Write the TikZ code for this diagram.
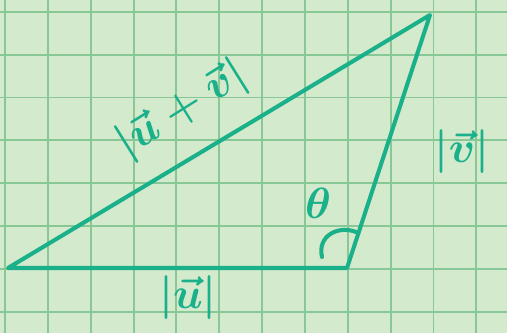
\documentclass[tikz,border=0pt]{standalone}
\usepackage{amsmath,amssymb}
\usepackage{tikz}
\usepackage{xcolor}
\definecolor{paper}{HTML}{D3EACD}
\definecolor{gridline}{HTML}{88C896}
\definecolor{ink}{HTML}{19B08A}
\tikzset{
  side/.style={ink,line width=2.3pt,line join=round,line cap=round},
  lbl/.style={ink,font=\fontsize{24}{28}\selectfont\boldmath},
}
\begin{document}
\begin{tikzpicture}[x=0.02cm,y=-0.02cm,line cap=round]
\fill[paper] (0,0) rectangle (507,333);
\useasboundingbox (0,0) rectangle (507,333);
\begin{scope}
\clip (0,0) rectangle (507,333);
\foreach \i in {0,...,11} \draw[gridline,line width=1.1pt] ({5+42.85*\i},0) -- ({5+42.85*\i},333);
\foreach \j in {0,...,7} \draw[gridline,line width=1.1pt] (0,{11.7+42.9*\j}) -- (507,{11.7+42.9*\j});
\end{scope}
\coordinate (A) at (8,268);
\coordinate (B) at (347,268);
\coordinate (C) at (430,15);
\draw[side] (A) -- (B) -- (C) -- cycle;
\node[lbl] (u) at (188,298) {$|\vec{u}|$};
\node[lbl] (v) at (462,152) {$|\vec{v}|$};
\node[lbl,rotate=32] (uv) at (182,110) {$|\vec{u}+\vec{v}|$};
\node[lbl] (theta) at (318,203) {$\theta$};
\draw[side] (322,257) .. controls (317,236) and (338,225) .. (356,232);
\end{tikzpicture}
\end{document}
